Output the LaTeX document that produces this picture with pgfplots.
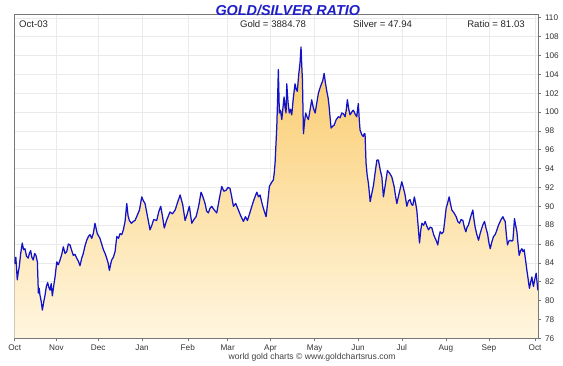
\documentclass[border=0pt]{standalone}
\usepackage{fontspec}
\setmainfont{Liberation Sans}
\usepackage{pgfplots}
\pgfplotsset{compat=1.18}
\usepackage{pgfplotstable}
\definecolor{lineblue}{RGB}{18,18,200}
\definecolor{titleblue}{RGB}{30,30,200}
\definecolor{filltop}{RGB}{250,202,105}
\definecolor{fillbot}{RGB}{255,246,224}
\definecolor{gridgray}{RGB}{234,234,234}
\definecolor{framegray}{RGB}{120,120,120}

\pgfplotstableread{
x y
0 83.9
0.8 84.6
1.8 82.2
2.5 83.0
3.2 83.6
4.2 85.0
5.3 86.1
6.2 85.4
7.2 85.5
8.3 84.7
9.5 84.5
10.3 85.0
11.2 85.3
12.0 84.6
13.0 84.3
14.0 85.0
14.9 84.8
15.9 84.1
16.6 80.8
17.2 81.3
17.7 80.6
18.6 79.9
19.4 79.0
20.3 79.8
21.3 80.6
22.2 81.5
23.1 81.9
24.0 81.4
24.8 81.1
25.6 81.8
26.4 80.5
27.4 81.6
28.3 82.5
29.5 84.1
30.6 83.8
31.8 84.3
33.0 84.9
34.1 85.7
35.3 85.0
36.5 85.2
37.6 86.0
38.8 85.9
40.0 85.3
41.1 84.8
42.3 84.9
43.5 84.5
44.6 84.2
45.8 83.7
47.0 84.5
48.1 85.0
49.3 85.8
50.5 86.4
51.7 86.8
52.8 87.0
54.0 86.6
55.1 87.1
56.3 88.2
57.9 87.1
59.8 86.6
61.0 86.0
62.2 85.4
63.4 85.0
64.5 84.5
65.5 84.0
66.4 83.2
67.2 83.8
68.0 84.3
69.2 84.6
70.4 85.2
71.6 86.8
72.8 86.6
73.9 87.1
75.1 87.0
76.2 87.5
77.4 88.4
78.6 90.3
79.5 89.0
80.4 88.5
81.8 88.2
83.2 88.4
84.4 88.5
85.8 89.0
87.5 89.6
89.1 91.0
90.2 90.6
91.4 90.3
92.8 89.2
94.9 87.5
96.2 88.0
97.5 88.6
99.6 88.5
101.0 89.4
102.4 90.0
103.6 89.0
104.9 87.7
106.5 88.5
108.9 89.4
110.6 89.2
112.5 89.6
114.2 90.4
116.0 91.2
117.8 90.2
119.5 88.5
121.0 89.2
122.5 90.0
123.4 89.0
124.2 88.2
125.7 88.6
127.2 88.9
129.0 90.0
130.7 91.5
132.0 91.0
133.5 90.3
134.6 89.5
135.8 89.3
137.0 89.8
138.2 90.0
140.0 89.6
141.7 89.3
143.5 90.8
145.2 92.1
146.7 91.6
148.2 91.7
149.6 92.0
151.0 91.9
152.2 91.0
153.4 90.0
155.0 90.3
156.9 89.6
158.5 89.0
160.4 88.4
161.8 88.9
163.2 88.5
164.7 89.2
166.3 90.0
168.0 90.8
169.8 91.5
171.0 91.0
172.1 91.2
173.0 90.6
174.0 90.0
175.2 89.4
176.3 88.9
177.5 90.5
178.6 92.1
180.0 92.5
181.4 92.8
182.0 93.5
182.6 94.6
183.2 96.5
183.8 98.4
184.4 101.5
184.9 104.5
185.6 99.9
186.4 100.2
187.3 99.2
188.1 100.4
188.9 101.6
189.6 100.5
190.3 99.9
190.8 103.0
191.7 101.0
192.6 99.9
193.4 100.3
194.3 99.7
195.4 101.5
196.6 103.0
197.4 102.4
198.2 102.2
199.2 104.0
200.1 105.2
200.8 106.9
201.3 105.0
201.8 103.4
202.5 97.7
203.3 99.0
204.1 99.9
205.0 99.5
206.0 99.2
207.2 100.3
208.3 101.3
209.5 100.4
210.7 99.9
211.9 101.0
213.0 102.0
214.0 102.5
214.9 102.9
216.0 103.3
217.0 104.1
218.0 103.0
218.9 102.2
219.8 101.5
220.5 100.6
221.2 99.4
221.9 98.3
223.0 98.5
224.0 98.6
225.5 99.2
227.0 99.5
228.2 99.4
229.4 99.9
230.6 99.8
231.7 99.5
232.5 100.2
233.3 101.3
234.3 100.3
235.2 99.7
236.4 100.0
237.5 100.2
238.7 99.8
239.9 99.5
240.4 100.2
241.0 100.9
241.6 99.3
242.2 98.1
243.4 97.6
244.5 97.4
245.1 97.7
245.7 97.7
246.4 94.6
247.2 93.3
248.1 92.4
248.8 91.3
249.3 90.5
250.5 91.4
251.6 92.2
252.8 93.6
254.0 94.9
255.1 94.9
256.3 93.9
257.5 93.1
258.6 91.0
260.0 92.4
261.4 93.8
263.0 93.5
264.5 93.1
266.1 92.1
267.0 91.2
268.0 90.3
269.8 91.5
271.5 92.6
272.7 91.9
273.8 91.2
275.0 90.0
276.2 90.6
277.3 90.7
278.3 90.2
279.2 90.1
280.3 91.0
281.2 90.3
282.0 89.6
283.0 87.8
283.9 86.1
284.8 87.5
285.6 88.2
286.8 88.0
287.9 88.4
289.0 87.9
290.2 87.5
291.4 87.8
292.6 87.7
293.8 87.0
294.9 86.6
295.8 86.3
296.7 85.9
297.6 86.8
298.4 87.3
299.5 87.1
300.7 87.3
301.7 88.6
302.6 89.8
303.7 90.4
304.7 91.0
305.7 90.2
306.6 89.6
308.1 89.3
309.6 88.9
310.7 88.4
311.9 88.2
313.1 88.6
314.3 88.5
315.3 87.8
316.4 87.3
317.3 87.8
318.2 88.0
319.8 88.9
321.3 89.6
322.1 88.6
322.9 87.8
324.1 87.0
325.3 86.4
326.4 87.1
327.6 87.7
328.5 88.1
329.5 88.4
330.5 87.7
331.6 87.1
332.5 86.2
333.5 85.5
334.6 86.2
335.8 86.8
337.0 87.0
338.2 87.5
339.3 88.0
340.5 88.4
341.5 88.7
342.4 88.9
343.2 88.6
344.0 88.4
344.8 87.0
345.6 85.9
346.5 86.3
347.5 86.4
348.5 86.3
349.4 86.4
350.0 87.6
350.5 88.7
351.3 88.0
352.2 87.3
353.0 86.0
353.8 84.8
354.8 85.3
355.7 85.5
356.5 85.2
357.3 85.4
358.0 84.6
358.7 83.8
359.3 83.1
359.9 82.5
360.5 81.8
361.0 81.3
361.9 82.0
362.7 82.5
363.2 82.0
363.8 81.5
364.8 82.3
365.7 82.9
366.3 82.0
366.9 81.1
}\ratiodata

\begin{document}
\begin{tikzpicture}[x=1pt,y=1pt]
\path[use as bounding box] (0,0) rectangle (563,366);
\begin{axis}[
  at={(14.7pt,27.7pt)}, anchor=south west,
  scale only axis, width=523.3pt, height=324.3pt,
  xmin=0, xmax=367, ymin=76, ymax=110.4,
  xtick={0,29.3,58.6,89.3,121.4,149.4,179.4,210.4,240.8,271.5,302.4,332.6,364.9},
  xticklabels={Oct,Nov,Dec,Jan,Feb,Mar,Apr,May,Jun,Jul,Aug,Sep,Oct},
  ytick={76,78,...,110},
  xtick pos=lower, ytick pos=right, yticklabel pos=right,
  tick align=outside, major tick length=3pt,
  tick style={framegray, line width=0.6pt},
  axis line style={draw=framegray, line width=0.6pt},
  grid=major, major grid style={gridgray, line width=0.5pt},
  ticklabel style={font=\fontsize{8.2}{9}\selectfont, text=black!80},
  yticklabel style={xshift=0.5pt},
  /pgf/number format/assume math mode=true,
]
\addplot[draw=none, top color=filltop, bottom color=fillbot] table[x=x,y=y]{\ratiodata} -- (axis cs:366.9,76) -- (axis cs:0,76) -- cycle;
\addplot[lineblue, line width=1.25pt, line join=round, mark=none] table[x=x,y=y]{\ratiodata};
\draw[framegray, line width=1.4pt] (rel axis cs:0,1) -- (rel axis cs:0,0) -- (rel axis cs:1,0);
\end{axis}
\node[anchor=base, inner sep=0pt, font=\fontsize{14.4}{16}\selectfont\bfseries\itshape, text=titleblue] at (287.8,350.5) {GOLD/SILVER RATIO};
\node[anchor=base west, inner sep=0pt, font=\fontsize{9.6}{11}\selectfont, text=black!85] at (19,338) {Oct-03};
\node[anchor=base, inner sep=0pt, font=\fontsize{9.6}{11}\selectfont, text=black!85] at (273,338) {Gold = 3884.78};
\node[anchor=base, inner sep=0pt, font=\fontsize{9.6}{11}\selectfont, text=black!85] at (382.6,338) {Silver = 47.94};
\node[anchor=base, inner sep=0pt, font=\fontsize{9.6}{11}\selectfont, text=black!85] at (496,338) {Ratio = 81.03};
\node[anchor=base, inner sep=0pt, font=\fontsize{8.6}{10}\selectfont, text=black!75] at (312.2,6) {world gold charts © www.goldchartsrus.com};
\end{tikzpicture}
\end{document}
